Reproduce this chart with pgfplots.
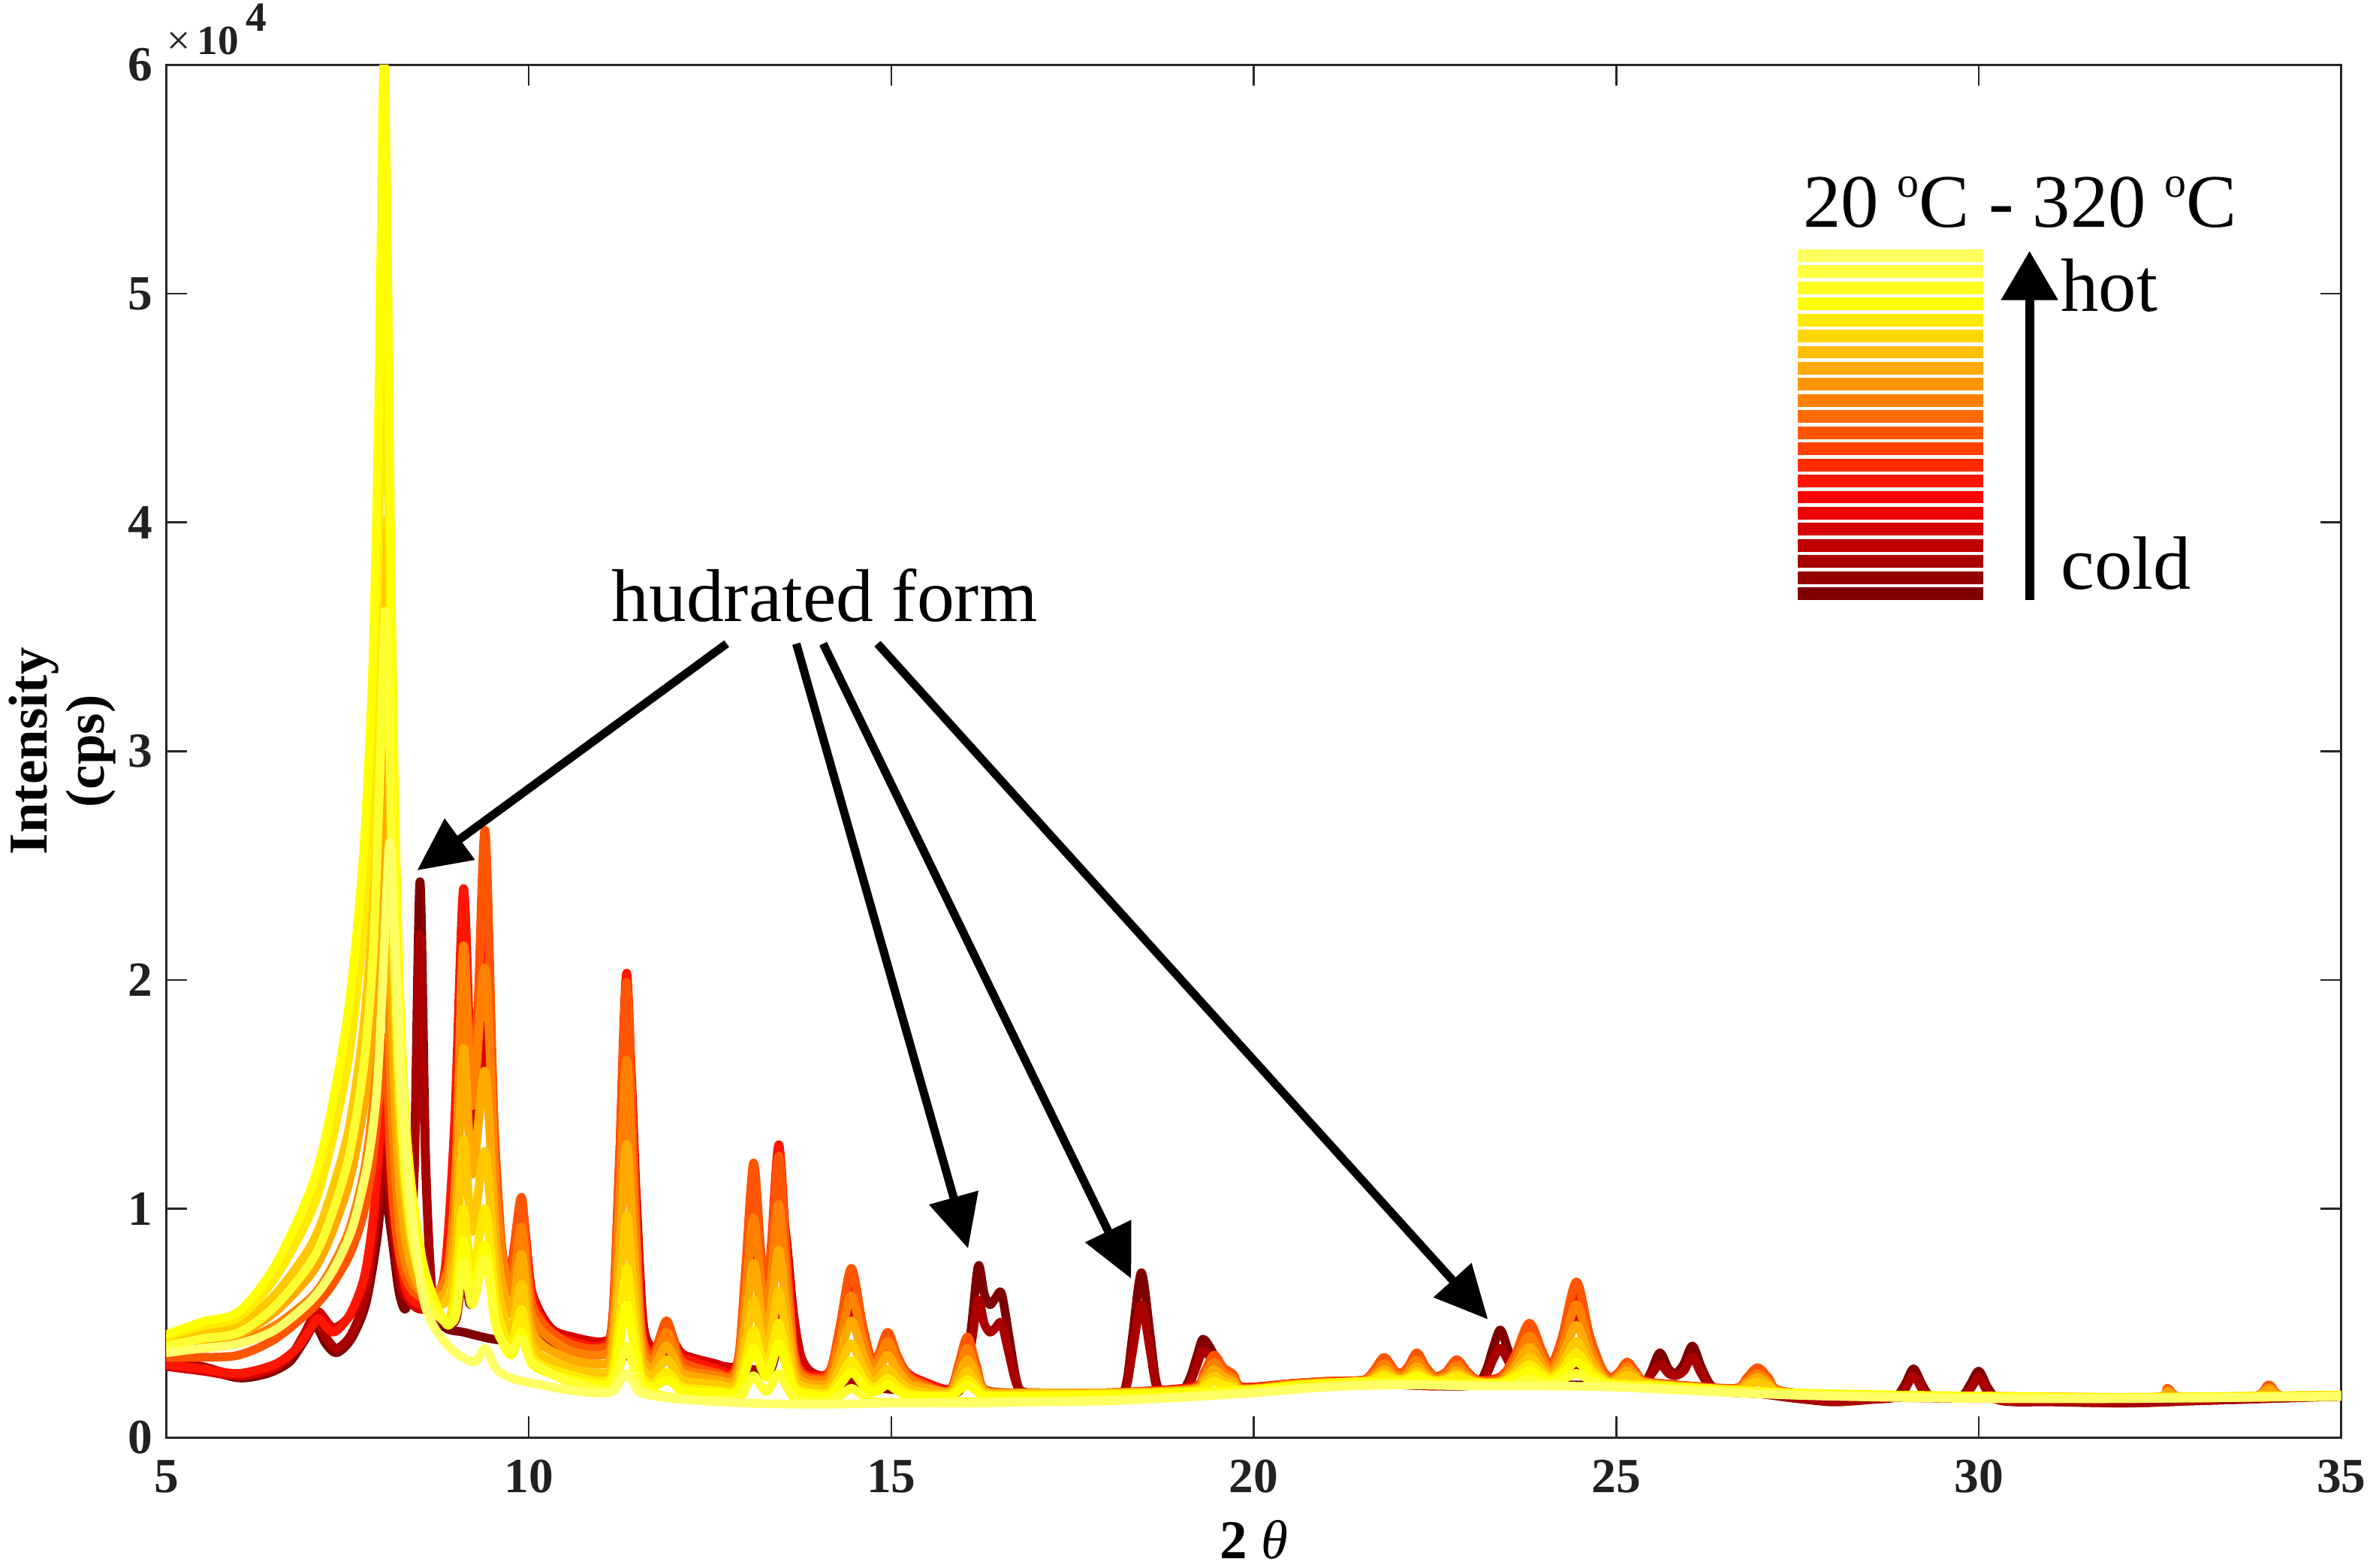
\documentclass[border=0pt]{standalone}
\usepackage{pgfplots}
\pgfplotsset{compat=1.18}
\usepackage{fontspec}
\setmainfont{Liberation Serif}
\usetikzlibrary{arrows.meta}
\definecolor{c1}{HTML}{800000}
\definecolor{c2}{HTML}{AA0000}
\definecolor{c3}{HTML}{D50000}
\definecolor{c4}{HTML}{FF1500}
\definecolor{c5}{HTML}{FF5500}
\definecolor{c6}{HTML}{FF8000}
\definecolor{c7}{HTML}{FFAA00}
\definecolor{c8}{HTML}{FFC800}
\definecolor{c9}{HTML}{FFEA00}
\definecolor{c10}{HTML}{FFFF00}
\definecolor{c11}{HTML}{FFFF30}
\definecolor{c12}{HTML}{FFFF66}
\definecolor{s0}{HTML}{FFFF60}
\definecolor{s1}{HTML}{FFFF40}
\definecolor{s2}{HTML}{FFFF20}
\definecolor{s3}{HTML}{FFFF00}
\definecolor{s4}{HTML}{FFEA00}
\definecolor{s5}{HTML}{FFD500}
\definecolor{s6}{HTML}{FFBF00}
\definecolor{s7}{HTML}{FFAA00}
\definecolor{s8}{HTML}{FF9500}
\definecolor{s9}{HTML}{FF8000}
\definecolor{s10}{HTML}{FF6A00}
\definecolor{s11}{HTML}{FF5500}
\definecolor{s12}{HTML}{FF4000}
\definecolor{s13}{HTML}{FF2A00}
\definecolor{s14}{HTML}{FF1500}
\definecolor{s15}{HTML}{FF0000}
\definecolor{s16}{HTML}{EA0000}
\definecolor{s17}{HTML}{D50000}
\definecolor{s18}{HTML}{BF0000}
\definecolor{s19}{HTML}{AA0000}
\definecolor{s20}{HTML}{950000}
\definecolor{s21}{HTML}{800000}
\newcommand{\degc}{\raisebox{7.9pt}{\fontsize{11.5}{12}\selectfont o}C}
\begin{document}
\begin{tikzpicture}
\useasboundingbox (0,0) rectangle (627.2pt,414.8pt);
\begin{axis}[
  at={(44pt,34.4pt)}, anchor=south west,
  scale only axis, width=575.6pt, height=363.2pt,
  xmin=5, xmax=35, ymin=0, ymax=60000,
  clip mode=individual,
  xtick={5,10,15,20,25,30,35}, xticklabels={5,10,15,20,25,30,35},
  ytick={0,10000,20000,30000,40000,50000,60000}, yticklabels={0,1,2,3,4,5,6},
  scaled y ticks=false,
  tick align=inside, xtick pos=both, ytick pos=both,
  major tick length=5.5pt,
  axis line style={draw=black!85, line width=0.6pt},
  tick style={draw=black!85, line width=0.5pt},
  tick label style={font=\fontsize{13}{15}\selectfont\bfseries, text=black!87},
  xticklabel style={yshift=-2.5pt},
  xlabel={\textbf{2} \textit{θ}},
  xlabel style={at={(axis description cs:0.5,0)}, anchor=base, yshift=-32pt, font=\fontsize{14.5}{16}\selectfont},
  ylabel={\textbf{Intensity}\\\textbf{(cps)}},
  ylabel style={at={(axis description cs:0,0.5)}, anchor=center, yshift=27.5pt, align=center, font=\fontsize{14.5}{15}\selectfont},
  every axis plot/.append style={line width=2.3pt, line join=round, line cap=round, smooth, tension=0.5},
]
% c1 coldest (hydrated form)
\addplot[c1] coordinates {(5,3300)(5.5,3000)(6.0,2600)(6.4,2800)(6.7,3300)(6.9,4200)(7.05,4900)(7.2,4100)(7.35,3700)(7.55,4300)(7.75,5800)(7.9,8500)(8.0,11000)(8.1,9000)(8.22,6200)(8.33,6000)(8.42,12000)(8.5,24300)(8.58,12000)(8.68,5800)(8.85,4800)(9.1,4600)(9.5,4300)(10,4100)(10.5,3900)(11,3700)(11.5,3500)(12,3300)(12.5,3100)(13,2900)(13.3,2800)(13.43,4000)(13.56,6500)(13.68,4000)(13.8,2800)(14,2600)(14.5,2300)(15,2100)(15.5,2000)(15.9,1950)(16.0,2600)(16.1,4700)(16.2,7500)(16.28,6300)(16.36,5800)(16.44,6100)(16.52,6300)(16.62,4500)(16.72,2600)(16.82,1950)(17.2,1900)(17.7,1850)(18.15,1900)(18.25,2500)(18.33,4500)(18.45,7200)(18.57,4500)(18.65,2500)(18.75,1900)(19.0,2000)(19.12,2600)(19.22,3600)(19.3,4300)(19.42,3800)(19.55,2900)(19.68,2200)(19.8,2000)(20,2100)(20.5,2200)(21,2350)(21.5,2300)(22,2300)(22.5,2250)(23.05,2300)(23.2,2900)(23.3,3900)(23.4,4700)(23.5,3900)(23.6,3000)(23.72,2400)(24,2300)(24.5,2300)(25,2300)(25.35,2300)(25.47,2800)(25.6,3700)(25.72,3000)(25.82,2800)(25.93,3200)(26.05,4000)(26.17,3100)(26.3,2300)(26.5,2000)(27,1900)(27.5,1700)(28,1600)(28.5,1700)(28.85,1800)(28.98,2300)(29.1,3000)(29.22,2300)(29.35,1800)(29.75,1800)(29.88,2300)(30.0,2900)(30.12,2200)(30.25,1700)(30.5,1600)(31,1600)(32,1500)(33,1600)(34,1700)(35,1800)};
% c2
\addplot[c2] coordinates {(5,3400)(5.5,3100)(6,2700)(6.4,2900)(6.7,3500)(6.9,4500)(7.05,5300)(7.2,4400)(7.35,3900)(7.55,4500)(7.75,6200)(7.9,9500)(8.0,12500)(8.1,10000)(8.22,6800)(8.33,6500)(8.42,11500)(8.5,22000)(8.58,11500)(8.68,6000)(8.85,5000)(9.0,5200)(9.1,7500)(9.2,5800)(9.4,7800)(9.55,5200)(9.8,4600)(10,4500)(10.5,4200)(11,3900)(11.2,4000)(11.3,5600)(11.4,6500)(11.5,5400)(11.62,3900)(12,3500)(12.5,3200)(13,3000)(13.3,3100)(13.45,4800)(13.56,7000)(13.68,4500)(13.8,3000)(14,2700)(14.5,2400)(15,2200)(15.5,2050)(15.9,2000)(16.0,2500)(16.1,4000)(16.2,6000)(16.28,5000)(16.36,4600)(16.44,4800)(16.52,5000)(16.62,3700)(16.72,2400)(16.82,2000)(17.2,1900)(17.7,1850)(18.15,1900)(18.25,2300)(18.33,3800)(18.45,5800)(18.57,3800)(18.65,2300)(18.75,1900)(19.0,2000)(19.12,2400)(19.22,3200)(19.3,3800)(19.42,3400)(19.55,2700)(19.68,2100)(19.8,2000)(20,2100)(20.5,2200)(21,2350)(21.5,2300)(22,2300)(22.5,2250)(23.05,2300)(23.2,2700)(23.3,3400)(23.4,3900)(23.5,3400)(23.6,2800)(23.72,2400)(24,2300)(24.25,2500)(24.45,2900)(24.65,2500)(24.9,2300)(25.35,2300)(25.47,2700)(25.6,3200)(25.72,2800)(25.82,2700)(25.93,2900)(26.05,3500)(26.17,2800)(26.3,2200)(26.5,2000)(27,1900)(27.5,1700)(28,1550)(28.5,1650)(28.85,1750)(28.98,2100)(29.1,2700)(29.22,2100)(29.35,1750)(29.75,1750)(29.88,2100)(30.0,2600)(30.12,2000)(30.25,1650)(30.5,1550)(31,1550)(32,1500)(33,1600)(34,1700)(35,1800)};
% c3
\addplot[c3] coordinates {(5,3100)(5.5,2900)(6,2700)(6.5,3100)(6.8,3900)(7.0,5000)(7.1,5500)(7.3,4800)(7.5,5200)(7.65,6000)(7.75,7000)(7.85,9000)(7.93,11800)(8.0,14500)(8.05,13800)(8.1,11200)(8.15,9200)(8.25,7000)(8.35,6000)(8.5,5600)(8.7,5800)(8.85,7200)(8.98,13000)(9.1,22500)(9.2,15000)(9.27,13500)(9.4,18000)(9.52,10500)(9.65,7500)(9.75,7000)(9.9,9200)(10.05,6300)(10.3,4800)(10.6,4400)(11.03,4200)(11.18,5000)(11.28,10800)(11.38,17500)(11.48,10800)(11.58,5000)(11.72,3900)(11.82,4200)(11.92,4700)(12.02,4100)(12.15,3600)(12.6,3200)(12.8,3000)(12.9,3500)(12.99,5700)(13.1,8500)(13.2,6400)(13.28,5600)(13.36,8000)(13.45,10500)(13.55,8800)(13.65,5500)(13.75,3600)(13.88,2900)(14.05,2700)(14.17,2940)(14.3,4200)(14.45,5700)(14.6,4200)(14.72,3260)(14.82,3350)(14.95,4000)(15.08,3350)(15.22,2800)(15.4,2500)(15.8,2100)(15.93,2900)(16.05,3700)(16.17,2900)(16.32,2050)(17,1950)(18,1950)(19.15,2200)(19.32,2750)(19.45,3300)(19.58,2900)(19.72,2650)(19.85,2200)(20.5,2350)(21,2450)(21.5,2500)(21.65,2760)(21.8,3150)(21.95,2760)(22.05,2715)(22.13,2875)(22.25,3250)(22.37,2875)(22.5,2600)(22.65,2720)(22.8,3050)(22.95,2720)(23.1,2500)(23.4,2600)(23.6,3280)(23.8,4300)(23.98,3500)(24.1,2990)(24.25,3800)(24.45,5500)(24.63,3900)(24.8,2890)(24.92,2550)(25.04,2750)(25.15,3050)(25.27,2750)(25.4,2450)(26,2250)(26.65,2100)(26.8,2400)(26.95,2700)(27.1,2400)(27.25,2000)(28,1800)(30,1700)(32,1700)(35,1850)};
% c4
\addplot[c4] coordinates {(5,3200)(5.5,3000)(6,2800)(6.5,3200)(6.8,3900)(7.0,4800)(7.1,5200)(7.3,4600)(7.5,5200)(7.65,6200)(7.75,7300)(7.85,9500)(7.93,12500)(8.0,15000)(8.05,14000)(8.1,11500)(8.15,9500)(8.25,7300)(8.35,6200)(8.5,5800)(8.7,6000)(8.85,7500)(8.98,14000)(9.1,24000)(9.2,16000)(9.27,15000)(9.4,22000)(9.52,12000)(9.65,7800)(9.75,7300)(9.9,10200)(10.05,6200)(10.3,4600)(10.6,4200)(11.0,4000)(11.15,5000)(11.25,12150)(11.35,20300)(11.45,12150)(11.55,4900)(11.7,3700)(11.8,4100)(11.9,4800)(12.0,4100)(12.12,3500)(12.6,3000)(12.8,2800)(12.9,3570)(12.99,6650)(13.1,10500)(13.2,7410)(13.28,5930)(13.35,8630)(13.45,12800)(13.56,7800)(13.66,3800)(13.8,2800)(14.05,2700)(14.17,3030)(14.3,4750)(14.45,6800)(14.6,4750)(14.72,3430)(14.82,3500)(14.95,4300)(15.08,3500)(15.22,2830)(15.4,2500)(15.8,2100)(15.93,3150)(16.05,4200)(16.17,3150)(16.32,2000)(17,1950)(18,1950)(19.15,2200)(19.32,2850)(19.45,3500)(19.58,3000)(19.72,2700)(19.85,2200)(20.5,2350)(21,2450)(21.5,2500)(21.65,2840)(21.8,3350)(21.95,2840)(22.05,2785)(22.13,3000)(22.25,3500)(22.37,3000)(22.5,2640)(22.65,2800)(22.8,3250)(22.95,2800)(23.1,2500)(23.4,2650)(23.6,3450)(23.8,4650)(23.98,3610)(24.1,3120)(24.25,4100)(24.45,6150)(24.63,4230)(24.8,3000)(24.92,2600)(25.04,2825)(25.15,3200)(25.27,2825)(25.4,2450)(26,2250)(26.65,2150)(26.8,2550)(26.95,2950)(27.1,2550)(27.25,2050)(28,1850)(30,1750)(32.4,1750)(32.6,2100)(32.8,1750)(33.8,1800)(34.0,2250)(34.2,1800)(35,1850)};
% c5
\addplot[c5] coordinates {(5,3500)(5.5,3500)(6.0,3600)(6.5,4300)(7.0,5600)(7.25,6500)(7.5,7800)(7.65,9000)(7.75,10200)(7.85,12200)(7.93,14800)(8.0,17500)(8.05,15500)(8.1,12000)(8.15,9700)(8.22,8000)(8.3,7000)(8.4,6400)(8.55,6100)(8.75,6300)(8.9,7800)(9.0,12000)(9.1,20000)(9.22,15500)(9.3,19000)(9.4,26500)(9.52,14000)(9.65,7500)(9.75,6800)(9.9,10500)(10.05,5800)(10.5,4200)(11.0,3900)(11.15,4860)(11.25,11900)(11.35,19900)(11.45,11900)(11.55,4800)(11.7,3500)(11.8,4300)(11.9,5100)(12.0,4300)(12.12,3300)(12.6,2800)(12.8,2700)(12.9,3630)(12.99,7350)(13.1,12000)(13.2,8200)(13.28,6010)(13.35,8360)(13.45,12300)(13.56,7500)(13.66,3660)(13.8,2700)(14.05,2600)(14.17,2980)(14.3,5000)(14.45,7400)(14.6,5000)(14.72,3480)(14.82,3600)(14.95,4600)(15.08,3600)(15.22,2760)(15.4,2400)(15.8,2000)(15.93,3200)(16.05,4400)(16.17,3200)(16.32,2000)(17,1950)(18,1950)(19.15,2150)(19.32,2875)(19.45,3600)(19.58,3050)(19.72,2750)(19.85,2150)(20.5,2350)(21,2450)(21.5,2500)(21.65,2900)(21.8,3500)(21.95,2900)(22.05,2840)(22.13,3100)(22.25,3700)(22.37,3100)(22.5,2665)(22.65,2860)(22.8,3400)(22.95,2860)(23.1,2500)(23.4,2600)(23.6,3560)(23.8,5000)(23.98,3750)(24.1,3160)(24.25,4350)(24.45,6800)(24.63,4490)(24.8,3020)(24.92,2600)(25.04,2870)(25.15,3300)(25.27,2870)(25.4,2450)(26,2250)(26.65,2150)(26.8,2600)(26.95,3050)(27.1,2600)(27.25,2050)(28,1850)(30,1800)(32.4,1750)(32.6,2150)(32.8,1750)(33.8,1800)(34.0,2300)(34.2,1800)(35,1850)};
% c6
\addplot[c6] coordinates {(5,3800)(5.5,3900)(6.0,4160)(6.5,4890)(7.0,6120)(7.25,7230)(7.5,8850)(7.65,10500)(7.75,12000)(7.85,14500)(7.93,18500)(8.0,24000)(8.05,20500)(8.1,15500)(8.15,12000)(8.22,9200)(8.3,7600)(8.4,6800)(8.55,6300)(8.75,6400)(8.9,7500)(9.0,12000)(9.1,21500)(9.22,14500)(9.4,20500)(9.55,10500)(9.75,6300)(9.9,9200)(10.05,5300)(10.5,3900)(11.0,3600)(11.15,4370)(11.25,10050)(11.35,16500)(11.45,10050)(11.55,4300)(11.7,3300)(11.8,3950)(11.9,4600)(12.0,3950)(12.12,3000)(12.6,2700)(12.8,2600)(12.9,3300)(12.99,6100)(13.1,9600)(13.2,6750)(13.28,5160)(13.35,7070)(13.45,10200)(13.56,6400)(13.66,3360)(13.8,2600)(14.05,2500)(14.17,2800)(14.3,4350)(14.45,6200)(14.6,4350)(14.72,3210)(14.82,3350)(14.95,4200)(15.08,3350)(15.22,2640)(15.4,2300)(15.8,2000)(15.93,2950)(16.05,3900)(16.17,2950)(16.32,2000)(17,1950)(18,1950)(19.15,2100)(19.32,2685)(19.45,3270)(19.58,2830)(19.72,2570)(19.85,2100)(20.5,2300)(21,2400)(21.5,2450)(21.65,2760)(21.8,3230)(21.95,2760)(22.05,2715)(22.13,2920)(22.25,3390)(22.37,2920)(22.5,2580)(22.65,2730)(22.8,3150)(22.95,2730)(23.1,2450)(23.4,2500)(23.6,3280)(23.8,4450)(23.98,3440)(24.1,2950)(24.25,3870)(24.45,5800)(24.63,3990)(24.8,2830)(24.92,2500)(25.04,2750)(25.15,3100)(25.27,2750)(25.4,2400)(26,2200)(26.65,2100)(26.8,2450)(26.95,2800)(27.1,2450)(27.25,2000)(28,1850)(30,1800)(32.4,1750)(32.6,2060)(32.8,1750)(33.8,1800)(34.0,2190)(34.2,1800)(35,1850)};
% c7
\addplot[c7] coordinates {(5,4000)(5.5,4280)(6.0,4500)(6.5,5490)(7.0,7160)(7.25,8680)(7.5,10900)(7.65,13100)(7.75,15100)(7.85,18600)(7.93,24100)(8.0,31500)(8.05,27000)(8.1,20000)(8.15,15000)(8.22,11000)(8.3,8700)(8.4,7300)(8.55,6300)(8.75,6100)(8.9,6800)(9.0,10000)(9.1,17000)(9.22,11500)(9.4,16000)(9.55,8500)(9.75,5400)(9.9,8000)(10.05,4600)(10.5,3500)(11.0,3200)(11.15,3780)(11.25,8000)(11.35,12800)(11.45,8000)(11.55,3700)(11.7,3000)(11.8,3500)(11.9,4000)(12.0,3500)(12.12,2800)(12.6,2500)(12.8,2400)(12.9,2920)(12.99,5000)(13.1,7600)(13.2,5490)(13.28,4330)(13.35,5800)(13.45,8200)(13.56,5300)(13.66,2980)(13.8,2400)(14.05,2300)(14.17,2520)(14.3,3700)(14.45,5100)(14.6,3700)(14.72,2840)(14.82,2950)(14.95,3600)(15.08,2950)(15.22,2400)(15.4,2200)(15.8,2000)(15.93,2700)(16.05,3400)(16.17,2700)(16.32,2000)(17,1950)(18,1950)(19.15,2100)(19.32,2535)(19.45,2970)(19.58,2640)(19.72,2450)(19.85,2100)(20.5,2300)(21,2380)(21.5,2400)(21.65,2630)(21.8,2980)(21.95,2630)(22.05,2600)(22.13,2750)(22.25,3100)(22.37,2750)(22.5,2500)(22.65,2610)(22.8,2920)(22.95,2610)(23.1,2400)(23.4,2450)(23.6,3050)(23.8,3950)(23.98,3170)(24.1,2790)(24.25,3470)(24.45,4900)(24.63,3550)(24.8,2700)(24.92,2420)(25.04,2660)(25.15,2920)(25.27,2660)(25.4,2400)(26,2200)(26.65,2100)(26.8,2360)(26.95,2620)(27.1,2360)(27.25,2000)(28,1850)(30,1800)(32.4,1750)(32.6,1980)(32.8,1750)(33.8,1800)(34.0,2090)(34.2,1800)(35,1850)};
% c8
\addplot[c8] coordinates {(5,4300)(5.5,4650)(6.0,4940)(6.5,6230)(7.0,8410)(7.25,10400)(7.5,13200)(7.65,16100)(7.75,18800)(7.85,23200)(7.93,30400)(8.0,40000)(8.05,34500)(8.1,25500)(8.15,19000)(8.22,13500)(8.3,10300)(8.4,8200)(8.55,6600)(8.75,5800)(8.9,6200)(9.0,8200)(9.1,13000)(9.22,9000)(9.4,12500)(9.55,7000)(9.75,4600)(9.9,6700)(10.05,4000)(10.5,3100)(11.0,2800)(11.15,3210)(11.25,6250)(11.35,9700)(11.45,6250)(11.55,3200)(11.7,2700)(11.8,3050)(11.9,3400)(12.0,3050)(12.12,2500)(12.6,2300)(12.8,2200)(12.9,2580)(12.99,4100)(13.1,6000)(13.2,4450)(13.28,3610)(13.35,4670)(13.45,6400)(13.56,4300)(13.66,2620)(13.8,2200)(14.05,2100)(14.17,2260)(14.3,3100)(14.45,4100)(14.6,3100)(14.72,2480)(14.82,2550)(14.95,3000)(15.08,2550)(15.22,2170)(15.4,2000)(15.8,1900)(15.93,2400)(16.05,2900)(16.17,2400)(16.32,1900)(17,1900)(18,1900)(19.15,2050)(19.32,2365)(19.45,2680)(19.58,2440)(19.72,2300)(19.85,2050)(20.5,2250)(21,2380)(21.5,2400)(21.65,2570)(21.8,2820)(21.95,2570)(22.05,2540)(22.13,2650)(22.25,2900)(22.37,2650)(22.5,2470)(22.65,2550)(22.8,2780)(22.95,2550)(23.1,2400)(23.4,2400)(23.6,2840)(23.8,3500)(23.98,2930)(24.1,2650)(24.25,3150)(24.45,4200)(24.63,3210)(24.8,2580)(24.92,2370)(25.04,2540)(25.15,2730)(25.27,2540)(25.4,2350)(26,2200)(26.65,2050)(26.8,2240)(26.95,2430)(27.1,2240)(27.25,1950)(28,1850)(30,1800)(32,1750)(35,1850)};
% c9
\addplot[c9] coordinates {(5,4400)(5.5,4880)(6.0,5260)(6.5,6970)(7.0,9870)(7.25,12500)(7.5,16300)(7.65,20100)(7.75,23700)(7.85,29600)(7.93,39100)(8.0,52000)(8.05,45000)(8.1,33000)(8.15,24500)(8.22,17000)(8.3,12500)(8.4,9500)(8.55,7000)(8.75,5500)(8.9,5100)(9.0,6900)(9.1,10000)(9.22,7000)(9.4,10000)(9.55,5800)(9.75,4000)(9.9,5600)(10.05,3500)(10.5,2800)(11.0,2450)(11.15,2750)(11.25,4930)(11.35,7400)(11.45,4930)(11.55,2750)(11.7,2350)(11.8,2600)(11.9,2850)(12.0,2600)(12.12,2200)(12.6,2050)(12.8,2000)(12.9,2270)(12.99,3350)(13.1,4700)(13.2,3600)(13.28,3000)(13.35,3760)(13.45,5000)(13.56,3500)(13.66,2300)(13.8,2000)(14.05,1900)(14.17,2020)(14.3,2630)(14.45,3350)(14.6,2630)(14.72,2190)(14.82,2250)(14.95,2600)(15.08,2250)(15.22,1960)(15.4,1850)(15.8,1850)(15.93,2200)(16.05,2550)(16.17,2200)(16.32,1850)(17,1850)(18,1900)(19.15,2000)(19.32,2225)(19.45,2450)(19.58,2280)(19.72,2180)(19.85,2000)(20.5,2250)(21,2380)(21.5,2400)(21.65,2520)(21.8,2700)(21.95,2520)(22.05,2500)(22.13,2580)(22.25,2760)(22.37,2580)(22.5,2450)(22.65,2510)(22.8,2670)(22.95,2510)(23.1,2400)(23.4,2400)(23.6,2710)(23.8,3180)(23.98,2770)(24.1,2580)(24.25,2940)(24.45,3700)(24.63,2990)(24.8,2530)(25.0,2350)(26,2200)(27,2000)(28,1900)(30,1800)(32,1750)(35,1850)};
% c10
\addplot[c10] coordinates {(5,4500)(5.5,5050)(6.0,5500)(6.5,7500)(7.0,10900)(7.25,13900)(7.5,18400)(7.65,22800)(7.75,27000)(7.85,33900)(7.93,45000)(8.0,60000)(8.05,52000)(8.1,38000)(8.15,28000)(8.22,19500)(8.3,14000)(8.4,10500)(8.55,7500)(8.75,5600)(8.9,4900)(9.0,6000)(9.1,8600)(9.22,6300)(9.4,8400)(9.55,5000)(9.75,3600)(9.9,4600)(10.05,3200)(10.5,2600)(11.0,2300)(11.15,2510)(11.25,4050)(11.35,5800)(11.45,4050)(11.55,2500)(11.7,2200)(11.8,2350)(11.9,2500)(12.0,2350)(12.12,2050)(12.6,1950)(12.8,1900)(12.9,2100)(12.99,2900)(13.1,3900)(13.2,3090)(13.28,2640)(13.35,3190)(13.45,4100)(13.56,3000)(13.66,2120)(13.8,1900)(14.05,1800)(14.17,1880)(14.3,2330)(14.45,2850)(14.6,2330)(14.72,2005)(14.82,2050)(14.95,2300)(15.08,2050)(15.22,1840)(15.4,1800)(15.8,1800)(15.93,2050)(16.05,2300)(16.17,2050)(16.32,1800)(17,1800)(18,1850)(19,1950)(20,2100)(21,2350)(21.5,2450)(22.0,2400)(22.13,2530)(22.25,2660)(22.37,2530)(22.5,2400)(23,2350)(23.4,2350)(23.6,2580)(23.8,2920)(23.98,2620)(24.1,2480)(24.25,2750)(24.45,3300)(24.63,2780)(24.8,2450)(25.0,2300)(26,2150)(27,2000)(28,1900)(30,1800)(32,1750)(35,1800)};
% c11
\addplot[c11] coordinates {(5,4000)(5.5,4320)(6.0,4580)(6.5,5730)(7.0,7680)(7.25,9440)(7.5,12000)(7.65,14600)(7.75,17000)(7.85,21000)(7.93,27400)(8.0,34500)(8.03,36000)(8.08,31000)(8.13,23000)(8.2,16500)(8.28,12000)(8.38,9000)(8.5,7000)(8.7,5500)(8.9,5000)(9.0,5400)(9.1,7700)(9.22,5800)(9.4,7800)(9.55,4800)(9.75,3800)(9.9,4300)(10.05,3300)(10.5,2500)(11.0,2100)(11.15,2210)(11.25,3050)(11.35,4000)(11.45,3050)(11.55,2200)(11.7,1950)(12.0,1750)(12.5,1650)(12.9,1710)(12.99,2150)(13.1,2700)(13.2,2250)(13.28,2000)(13.35,2300)(13.45,2800)(13.56,2200)(13.66,1720)(13.8,1600)(14.1,1550)(14.3,1850)(14.45,2150)(14.6,1850)(14.8,1550)(15.5,1550)(16.5,1580)(17.5,1620)(18.5,1720)(19.5,1900)(20.5,2130)(21.5,2350)(22.5,2330)(23.5,2300)(23.65,2420)(23.8,2550)(23.98,2420)(24.1,2330)(24.25,2510)(24.45,2800)(24.63,2520)(24.8,2350)(25.0,2250)(26,2100)(27,1950)(28,1850)(30,1750)(32,1700)(35,1800)};
% c12 hottest
\addplot[c12] coordinates {(5,3700)(5.5,3900)(6.0,4100)(6.5,4700)(7.0,6000)(7.3,7300)(7.55,9000)(7.7,10800)(7.8,12400)(7.9,15000)(7.98,19500)(8.08,26000)(8.15,22000)(8.22,17500)(8.28,14000)(8.35,11000)(8.43,8700)(8.55,6000)(8.7,4800)(8.95,3800)(9.25,3300)(9.4,3900)(9.55,3000)(9.75,2600)(10.0,2400)(10.5,2100)(10.9,1950)(11.15,2000)(11.25,2380)(11.35,2800)(11.45,2380)(11.55,1950)(12,1700)(13,1500)(14,1450)(15,1500)(16,1500)(17,1550)(18,1600)(19,1750)(20,1950)(21,2200)(22,2300)(23,2250)(24,2250)(25,2200)(26,2050)(27,1900)(28,1800)(30,1700)(32,1700)(35,1800)};
% colour key
\pgfplotsinvokeforeach{0,...,21}{
  \fill[s#1] (axis cs:27.5,{51943-703.9*#1}) rectangle (axis cs:30.06,{51943-703.9*#1-555});
}
% arrows
\draw[line width=2.2pt, -{Triangle[length=14pt,width=13pt]}] (axis cs:12.73,34700) -- (axis cs:8.46,24790);
\draw[line width=2.2pt, -{Triangle[length=14pt,width=13pt]}] (axis cs:13.69,34700) -- (axis cs:16.06,8260);
\draw[line width=2.2pt, -{Triangle[length=14pt,width=13pt]}] (axis cs:14.06,34700) -- (axis cs:18.31,6940);
\draw[line width=2.2pt, -{Triangle[length=14pt,width=13pt]}] (axis cs:14.81,34700) -- (axis cs:23.23,5160);
\draw[line width=2.4pt, -{Triangle[length=13pt,width=14.5pt]}] (axis cs:30.70,36620) -- (axis cs:30.70,51870);
% texts
\node[anchor=base, inner sep=0pt, font=\fontsize{19.8}{22}\selectfont] at (axis cs:14.08,35660) {hudrated form};
\node[anchor=base, inner sep=0pt, font=\fontsize{20}{22}\selectfont] at (axis cs:30.57,52910) {20 \degc{} - 320 \degc};
\node[anchor=base west, inner sep=0pt, font=\fontsize{20}{22}\selectfont] at (axis cs:31.125,49220) {hot};
\node[anchor=base west, inner sep=0pt, font=\fontsize{20}{22}\selectfont] at (axis cs:31.125,37080) {cold};
\node[anchor=base west, inner sep=0pt, font=\fontsize{11}{13}\selectfont, text=black!87] at (rel axis cs:0,1) [yshift=2.8pt] {×\,\textbf{10}\,\raisebox{6.2pt}{\textbf{4}}};
\end{axis}
\end{tikzpicture}
\end{document}
